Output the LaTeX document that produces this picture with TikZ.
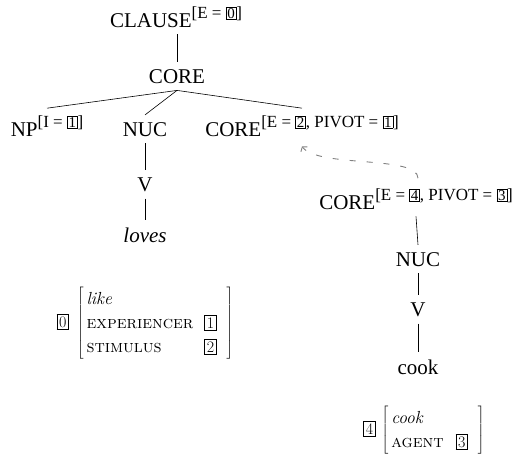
\documentclass[tikz,border=0pt]{standalone}
\usepackage{fontspec}
\newfontfamily\tfont{Liberation Serif}
\usetikzlibrary{arrows.meta}
\newcommand\tbx[1]{{\setlength\fboxsep{1pt}\setlength\fboxrule{0.5pt}\fbox{\fontsize{15}{15}\selectfont #1}}}
\newcommand\abx[1]{{\setlength\fboxsep{1.8pt}\setlength\fboxrule{0.6pt}\fbox{\fontsize{16}{16}\selectfont #1}}}
\newcommand\feat[1]{\raisebox{0.42em}{\fontsize{17}{17}\selectfont #1}}
\tikzset{
  tl/.style={font=\tfont\fontsize{21}{24}\selectfont, inner xsep=0pt, inner ysep=7pt, anchor=base},
  edge/.style={line width=0.6pt},
  avm/.style={font=\fontsize{17.5}{20}\selectfont, inner sep=0pt},
  link/.style={gray, line width=0.9pt, dash pattern=on 6pt off 11pt, -{Straight Barb[length=3pt,width=8pt]}}
}
\begin{document}
\begin{tikzpicture}[x=1pt,y=-1pt]
\useasboundingbox (0,0) rectangle (519,459);
\node[tl] (clause) at (176,27) {CLAUSE\feat{[E = \tbx{0}]}};
\node[tl] (core) at (177,83) {CORE};
\node[tl] (np) at (47,136) {NP\feat{[I = \tbx{1}]}};
\node[tl] (nuc) at (145,136) {NUC};
\node[tl] (core2) at (302,136) {CORE\feat{[E = \tbx{2}, PIVOT = \tbx{1}]}};
\node[tl] (v1) at (145,191) {V};
\node[tl] (loves) at (145,242) {\itshape loves};
\node[tl] (core3) at (416,209) {CORE\feat{[E = \tbx{4}, PIVOT = \tbx{3}]}};
\node[tl] (nuc2) at (418,266) {NUC};
\node[tl] (v2) at (418,316) {V};
\node[tl] (cook) at (418,374) {cook};
\draw[edge] (core.north |- clause.south) -- (core.north);
\draw[edge] (core.south) -- (np.north);
\draw[edge] (core.south) -- (nuc.north);
\draw[edge] (core.south) -- (core2.north);
\draw[edge] (nuc.south) -- (v1.north);
\draw[edge] (v1.south) -- (loves.north);
\draw[edge] (core3.south) -- (nuc2.north);
\draw[edge] (nuc2.south) -- (v2.north);
\draw[edge] (v2.south) -- (cook.north);
\draw[link] ([xshift=2pt,yshift=3pt]core3.north) .. controls (418,155) and (318,168) .. ([yshift=-3pt]core2.south);
\node[avm] (avm1) at (145,323) {\abx{0}\hspace{8pt}$\left[\begin{array}{@{\hspace{3pt}}l@{\hspace{11pt}}l@{\hspace{10pt}}}\rule{0pt}{18pt}\textit{like} & \\[4pt] \textsc{experiencer} & \abx{1}\\[4pt] \rule[-8pt]{0pt}{8pt}\textsc{stimulus} & \abx{2}\end{array}\right]$};
\node[avm] (avm2) at (424,430) {\abx{4}\hspace{6pt}$\left[\begin{array}{@{\hspace{3pt}}l@{\hspace{12pt}}l@{\hspace{10pt}}}\rule{0pt}{18pt}\textit{cook} & \\[4pt] \rule[-8pt]{0pt}{8pt}\textsc{agent} & \abx{3}\end{array}\right]$};
\end{tikzpicture}
\end{document}
